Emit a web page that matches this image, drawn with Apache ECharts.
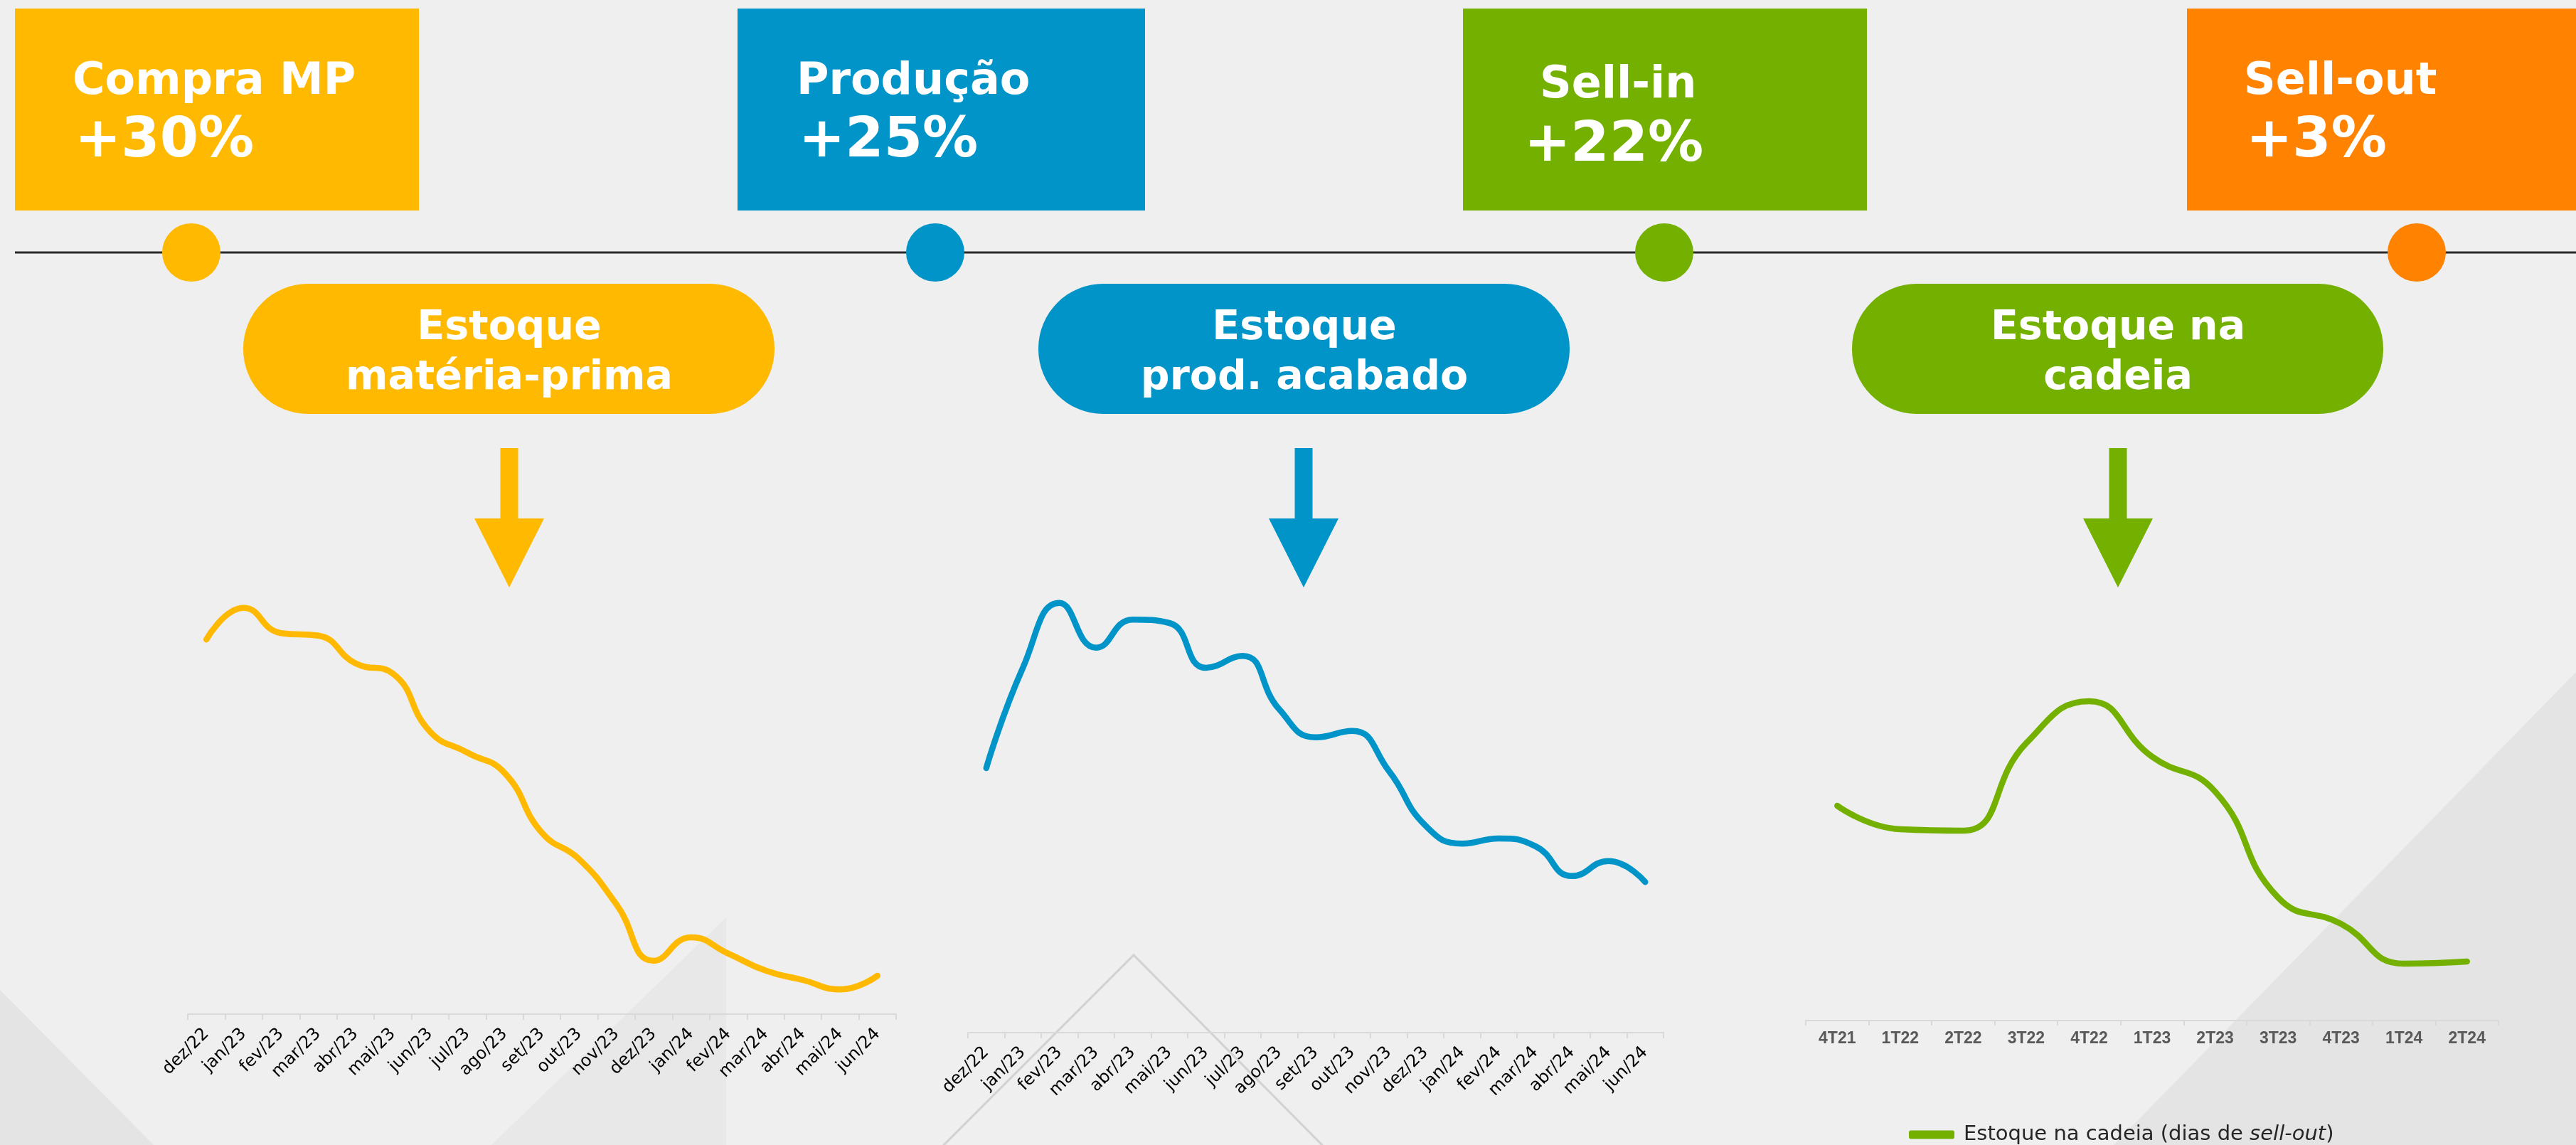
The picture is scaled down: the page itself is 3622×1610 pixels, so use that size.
<!DOCTYPE html>
<html>
<head>
<meta charset="utf-8">
<script src="https://cdn.jsdelivr.net/npm/echarts@6/dist/echarts.min.js"></script>
<style>
html, body { margin: 0; padding: 0; background: #efefef; }
#container { width: 3622px; height: 1610px; }
</style>
</head>
<body>
<div id="container"></div>
<script>
var myChart = echarts.init(document.getElementById('container'));

// dados
var meses = ['dez/22','jan/23','fev/23','mar/23','abr/23','mai/23','jun/23','jul/23','ago/23',
  'set/23','out/23','nov/23','dez/23','jan/24','fev/24','mar/24','abr/24','mai/24','jun/24'];
var estoqueMP = [87.8, 95.2, 89.3, 88.7, 82.2, 79.8, 66.2, 61.3, 56.5, 42.5, 36.3, 25.7, 12.5,
  18.0, 14.2, 10.2, 8.0, 5.8, 9.0];
var estoquePA = [62.0, 85.5, 100.7, 90.2, 96.8, 96.0, 85.5, 88.3, 75.8, 69.2, 70.7, 61.3, 48.5,
  44.3, 45.5, 43.7, 36.7, 40.2, 35.3];
var trimestres = ['4T21','1T22','2T22','3T22','4T22','1T23','2T23','3T23','4T23','1T24','2T24'];
var estoqueCadeia = [60.4, 53.8, 53.4, 78.0, 89.8, 74.2, 64.4, 34.6, 27.2, 16.0, 16.6];

var etapas = ['Compra MP', 'Produção', 'Sell-in', 'Sell-out'];
var variacoes = ['+30%', '+25%', '+22%', '+3%'];
var estoques = ['Estoque\nmatéria-prima', 'Estoque\nprod. acabado', 'Estoque na\ncadeia'];
var nomeSerie = 'Estoque na cadeia (dias de sell-out)';

var cores = ['#FFB900', '#0094C8', '#74B000', '#FF8200'];

// layout
var caixas = [
  {x: 21, w: 568, lx: 102, vx: 105, ly: 116, vy: 200},
  {x: 1037, w: 573, lx: 1120, vx: 1123, ly: 116, vy: 200},
  {x: 2057, w: 568, lx: 2165, vx: 2143, ly: 121, vy: 206},
  {x: 3075, w: 547, lx: 3155, vx: 3158, ly: 116, vy: 200}
];
var circulosX = [269, 1315, 2340, 3398];
var pilulasX = [342, 1460, 2604];
var setasX = [716, 1833, 2978];

var elementos = [
  // fundo
  {type: 'polygon', z: -10, shape: {points: [[0, 1392], [216, 1610], [0, 1610]]}, style: {fill: '#E4E4E4'}},
  {type: 'polygon', z: -10, shape: {points: [[1021, 1290], [1021, 1610], [691, 1610]]}, style: {fill: '#E8E8E8'}},
  {type: 'polygon', z: -10, shape: {points: [[3622, 945], [3622, 1610], [2972, 1610]]}, style: {fill: '#E4E4E4'}},
  {type: 'polyline', z: -10, shape: {points: [[1325, 1612], [1594, 1343], [1861, 1612]]},
    style: {stroke: '#D2D2D2', lineWidth: 3, fill: null}},
  // linha do tempo
  {type: 'line', z: 5, shape: {x1: 21, y1: 355, x2: 3622, y2: 355}, style: {stroke: '#2A2A2A', lineWidth: 3}}
];

caixas.forEach(function(c, i) {
  elementos.push({type: 'rect', z: 5, shape: {x: c.x, y: 12, width: c.w, height: 284}, style: {fill: cores[i]}});
  elementos.push({type: 'text', z: 6, x: c.lx, y: c.ly, style: {
    text: etapas[i], fill: '#fff', fontFamily: 'DejaVu Sans', fontWeight: 'bold', fontSize: 62,
    textAlign: 'left', align: 'left', textVerticalAlign: 'middle', verticalAlign: 'middle'}});
  elementos.push({type: 'text', z: 6, x: c.vx, y: c.vy, style: {
    text: variacoes[i], fill: '#fff', fontFamily: 'DejaVu Sans', fontWeight: 'bold', fontSize: 78,
    textAlign: 'left', align: 'left', textVerticalAlign: 'middle', verticalAlign: 'middle'}});
  elementos.push({type: 'circle', z: 6, shape: {cx: circulosX[i], cy: 355, r: 41}, style: {fill: cores[i]}});
});

pilulasX.forEach(function(px, i) {
  elementos.push({type: 'rect', z: 5, shape: {x: px, y: 399, width: 747, height: 183, r: 91}, style: {fill: cores[i]}});
  elementos.push({type: 'text', z: 6, x: px + 374, y: 497, style: {
    text: estoques[i], fill: '#fff', fontFamily: 'DejaVu Sans', fontWeight: 'bold', fontSize: 57,
    lineHeight: 70, textAlign: 'center', align: 'center', textVerticalAlign: 'middle', verticalAlign: 'middle'}});
  var sx = setasX[i];
  elementos.push({type: 'polygon', z: 5, shape: {points: [
    [sx - 12.5, 630], [sx + 12.5, 630], [sx + 12.5, 729], [sx + 49, 729],
    [sx, 826], [sx - 49, 729], [sx - 12.5, 729]]}, style: {fill: cores[i]}});
});

var eixoMes = function(idx) {
  return {
    type: 'category', gridIndex: idx, data: meses, boundaryGap: true,
    axisLine: {lineStyle: {color: '#D9D9D9', width: 2}},
    axisTick: {show: true, length: 8, lineStyle: {color: '#D9D9D9', width: 2}},
    axisLabel: {rotate: 45, interval: 0, margin: 24, fontFamily: 'DejaVu Sans', fontSize: 24, color: '#000'},
    splitLine: {show: false}
  };
};

var linha = function(nome, idx, dados, cor) {
  return {
    name: nome, type: 'line', xAxisIndex: idx, yAxisIndex: idx, data: dados,
    smooth: 0.5, showSymbol: false, symbol: 'none',
    lineStyle: {color: cor, width: 8.5, cap: 'round', join: 'round'},
    itemStyle: {color: cor}
  };
};

var option = {
  backgroundColor: '#EFEFEF',
  animation: false,
  graphic: {elements: elementos},
  grid: [
    {left: 264, width: 996, top: 826, bottom: 184},
    {left: 1361, width: 978, top: 792, bottom: 158},
    {left: 2539, width: 974, top: 935, bottom: 175}
  ],
  legend: {
    data: [nomeSerie],
    left: 2679, top: 1576,
    icon: 'roundRect', itemWidth: 64, itemHeight: 12,
    formatter: function(name) { return name.replace('sell-out', '{i|sell-out}'); },
    textStyle: {
      fontFamily: 'DejaVu Sans', fontSize: 29, color: '#262626', padding: [0, 0, 0, 8],
      rich: {i: {fontFamily: 'DejaVu Sans', fontSize: 29, fontStyle: 'italic', color: '#262626'}}
    }
  },
  xAxis: [
    eixoMes(0),
    eixoMes(1),
    {
      type: 'category', gridIndex: 2, data: trimestres, boundaryGap: true,
      axisLine: {lineStyle: {color: '#D9D9D9', width: 2}},
      axisTick: {show: true, length: 7, lineStyle: {color: '#D9D9D9', width: 2}},
      axisLabel: {interval: 0, margin: 14, fontFamily: 'Liberation Sans', fontWeight: 'bold', fontSize: 23, color: '#595959'}
    }
  ],
  yAxis: [
    {type: 'value', gridIndex: 0, min: 0, max: 100, show: false},
    {type: 'value', gridIndex: 1, min: 0, max: 110, show: false},
    {type: 'value', gridIndex: 2, min: 0, max: 100, show: false}
  ],
  series: [
    linha('Estoque matéria-prima', 0, estoqueMP, cores[0]),
    linha('Estoque prod. acabado', 1, estoquePA, cores[1]),
    linha(nomeSerie, 2, estoqueCadeia, cores[2])
  ]
};

myChart.setOption(option);
</script>
</body>
</html>
